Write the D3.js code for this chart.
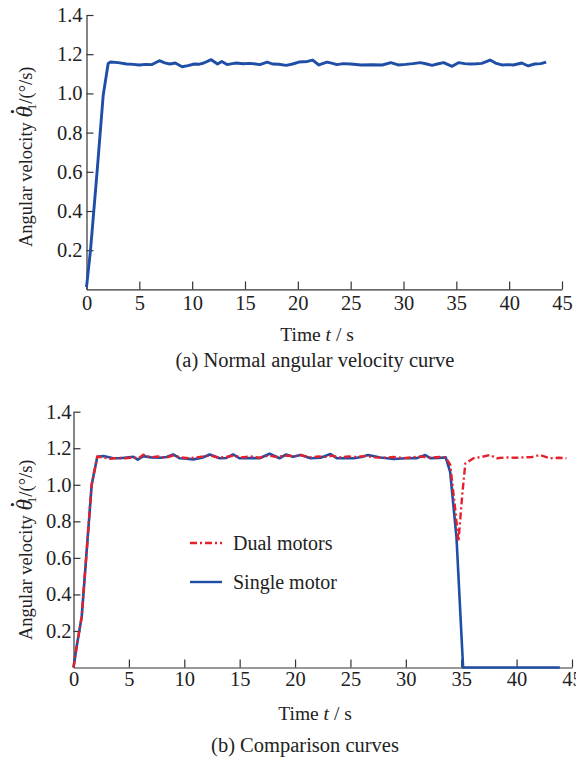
<!DOCTYPE html>
<html>
<head>
<meta charset="utf-8">
<script src="https://cdn.jsdelivr.net/npm/d3@7"></script>
<style>
  body { margin: 0; background: #fff; }
  text { font-family: "Liberation Serif", "Times New Roman", serif; fill: #222; }
</style>
</head>
<body>
<script>
// (a) normal angular velocity
const timeA = [0, 0.38, 1.0, 1.58, 2.05, 2.27, 3.0, 3.8, 4.4, 5.0, 5.6, 6.2, 6.9, 7.4, 7.9, 8.4, 9.05, 9.6, 10.2, 10.7, 11.1, 11.8, 12.4, 12.8, 13.3, 13.8, 14.2, 14.8, 15.5, 16.0, 16.4, 17.1, 17.6, 18.2, 18.9, 19.5, 20.1, 20.9, 21.4, 22.0, 22.75, 23.2, 23.7, 24.3, 25.0, 26.0, 27.0, 28.0, 28.8, 29.5, 30.2, 30.9, 31.6, 32.2, 32.7, 33.2, 33.8, 34.6, 35.2, 35.8, 36.3, 36.9, 37.4, 38.2, 38.7, 39.3, 39.9, 40.4, 41.2, 41.8, 42.4, 43.0, 43.5];
const velA = [0.012, 0.2, 0.6, 0.99, 1.153, 1.16, 1.157, 1.15, 1.148, 1.145, 1.148, 1.147, 1.167, 1.156, 1.15, 1.155, 1.136, 1.142, 1.15, 1.149, 1.155, 1.172, 1.15, 1.163, 1.147, 1.152, 1.155, 1.151, 1.153, 1.15, 1.147, 1.16, 1.15, 1.149, 1.143, 1.15, 1.16, 1.163, 1.17, 1.145, 1.16, 1.154, 1.147, 1.152, 1.15, 1.145, 1.146, 1.145, 1.157, 1.145, 1.148, 1.152, 1.157, 1.15, 1.143, 1.15, 1.157, 1.138, 1.157, 1.152, 1.15, 1.151, 1.153, 1.17, 1.155, 1.145, 1.147, 1.145, 1.155, 1.14, 1.15, 1.152, 1.16];

// (b) comparison
const timeSingle = [0, 0.3, 0.74, 1.64, 2.15, 2.7, 3.5, 4.2, 4.8, 5.4, 5.8, 6.3, 7.0, 7.8, 8.4, 9.0, 9.6, 10.2, 10.8, 11.6, 12.3, 13.2, 13.8, 14.4, 15.0, 15.9, 16.8, 17.7, 18.6, 19.2, 19.8, 20.5, 21.4, 22.3, 23.2, 23.8, 24.5, 25.3, 26.0, 26.6, 27.7, 28.9, 30.0, 31.0, 31.75, 32.2, 33.0, 33.6, 34.0, 34.57, 35.17, 36.0, 38.0, 40.0, 42.0, 43.9];
const velSingle = [0, 0.12, 0.277, 1.0, 1.153, 1.157, 1.147, 1.145, 1.149, 1.153, 1.138, 1.157, 1.15, 1.148, 1.152, 1.166, 1.145, 1.143, 1.139, 1.148, 1.166, 1.145, 1.147, 1.166, 1.145, 1.147, 1.145, 1.17, 1.145, 1.166, 1.153, 1.163, 1.145, 1.148, 1.168, 1.145, 1.147, 1.145, 1.152, 1.163, 1.149, 1.141, 1.145, 1.146, 1.163, 1.146, 1.147, 1.15, 1.07, 0.715, 0, 0, 0, 0, 0, 0];

const timeDual = [0, 0.3, 0.74, 1.64, 2.15, 2.6, 3.3, 4.0, 4.7, 5.3, 5.9, 6.3, 6.9, 7.6, 8.3, 9.0, 9.7, 10.4, 11.1, 11.8, 12.4, 13.1, 13.8, 14.5, 15.2, 16.0, 16.8, 17.6, 18.4, 19.2, 20.0, 20.5, 21.3, 22.1, 22.9, 23.3, 24.0, 24.8, 25.6, 26.4, 27.2, 28.0, 28.9, 29.8, 30.6, 31.4, 32.2, 33.0, 33.6, 34.0, 34.4, 34.75, 35.1, 35.37, 36.1, 36.8, 37.6, 38.2, 39.0, 39.8, 40.6, 41.4, 42.1, 43.0, 43.8, 44.5];
const velDual = [0, 0.12, 0.277, 1.0, 1.155, 1.15, 1.142, 1.148, 1.145, 1.15, 1.145, 1.165, 1.15, 1.155, 1.148, 1.16, 1.15, 1.145, 1.15, 1.155, 1.16, 1.148, 1.152, 1.16, 1.15, 1.155, 1.148, 1.16, 1.152, 1.16, 1.155, 1.163, 1.15, 1.155, 1.152, 1.16, 1.15, 1.155, 1.152, 1.158, 1.15, 1.148, 1.152, 1.146, 1.15, 1.155, 1.148, 1.152, 1.15, 1.11, 0.9, 0.69, 0.95, 1.117, 1.145, 1.152, 1.163, 1.145, 1.15, 1.148, 1.15, 1.152, 1.163, 1.145, 1.148, 1.145];

const xTicks = [0, 5, 10, 15, 20, 25, 30, 35, 40, 45];
const yTicks = [0.2, 0.4, 0.6, 0.8, 1.0, 1.2, 1.4];

const blue = "#1f4ea6", red = "#e5202a";

const svg = d3.select("body").append("svg")
  .attr("width", 576).attr("height", 762);

function panel(box, series, labels) {
  const x = d3.scaleLinear().domain([0, 45]).range([box.left, box.right]);
  const y = d3.scaleLinear().domain([0, 1.4]).range([box.bottom, box.top]);

  const xAxis = svg.append("g")
    .attr("transform", `translate(0,${box.bottom})`)
    .call(d3.axisBottom(x).tickValues(xTicks).tickSizeInner(-8).tickSizeOuter(0).tickPadding(box.xpad));
  const yAxis = svg.append("g")
    .attr("transform", `translate(${box.left},0)`)
    .call(d3.axisLeft(y).tickValues(yTicks).tickSizeInner(-7).tickSizeOuter(0)
      .tickPadding(box.ypad).tickFormat(d3.format(".1f")));
  [xAxis, yAxis].forEach(g => {
    g.selectAll("path,line").attr("stroke", "#333").attr("stroke-width", 1.2);
    g.selectAll("text").attr("font-size", 20.5).attr("fill", "#222");
  });

  const line = d3.line().x(d => x(d[0])).y(d => y(d[1]));
  series.forEach(s => {
    svg.append("path")
      .datum(s.t.map((t, i) => [t, s.v[i]]))
      .attr("fill", "none")
      .attr("stroke", s.color)
      .attr("stroke-width", s.width)
      .attr("stroke-dasharray", s.dash || null)
      .attr("stroke-linejoin", "round")
      .attr("d", line);
  });

  // y label, theta with dot, prime and subscript
  const yl = svg.append("text")
    .attr("transform", `translate(${box.ylx},${box.yly}) rotate(-90)`)
    .attr("font-size", 18.5);
  yl.append("tspan").text("Angular velocity ");
  yl.append("tspan").attr("font-style", "italic").attr("font-size", 23).text("θ");
  yl.append("tspan").attr("dx", -9).attr("dy", -6).attr("font-size", 22).attr("font-weight", "bold").text("˙");
  yl.append("tspan").attr("dx", -1).attr("dy", 5).attr("font-size", 17).text("′");
  yl.append("tspan").attr("dx", -5).attr("dy", 5).attr("font-size", 13).text("1");
  yl.append("tspan").attr("dy", -4).text("/(°/s)");

  const tl = svg.append("text")
    .attr("x", box.timeX).attr("y", box.timeY)
    .attr("text-anchor", "middle").attr("font-size", 19.5);
  tl.append("tspan").text("Time ");
  tl.append("tspan").attr("font-style", "italic").text("t");
  tl.append("tspan").text(" / s");

  svg.append("text")
    .attr("x", box.capX).attr("y", box.capY)
    .attr("text-anchor", "middle").attr("font-size", 20.5)
    .text(labels.caption);
}

panel({left: 86.5, right: 562, top: 15, bottom: 289.4, xpad: 6, ypad: 4,
       ylx: 31.5, yly: 247, timeX: 317, timeY: 341, capX: 315, capY: 367},
  [{t: timeA, v: velA, color: blue, width: 2.9}],
  {caption: "(a) Normal angular velocity curve"});

panel({left: 73.5, right: 572, top: 411.7, bottom: 667.5, xpad: 4, ypad: 2,
       ylx: 31.5, yly: 640, timeX: 315, timeY: 720, capX: 305, capY: 752},
  [{t: timeSingle, v: velSingle, color: blue, width: 2.6},
   {t: timeDual, v: velDual, color: red, width: 2.4, dash: "7,3,2,3"}],
  {caption: "(b) Comparison curves"});

// legend
const legend = [
  {name: "Dual motors", color: red, dash: "7,3,2,3", y: 543},
  {name: "Single motor", color: blue, dash: null, y: 582}
];
legend.forEach(d => {
  svg.append("line").attr("x1", 190).attr("x2", 222).attr("y1", d.y).attr("y2", d.y)
    .attr("stroke", d.color).attr("stroke-width", 2.4).attr("stroke-dasharray", d.dash);
  svg.append("text").attr("x", 233).attr("y", d.y + 7).attr("font-size", 20).text(d.name);
});
</script>
</body>
</html>
